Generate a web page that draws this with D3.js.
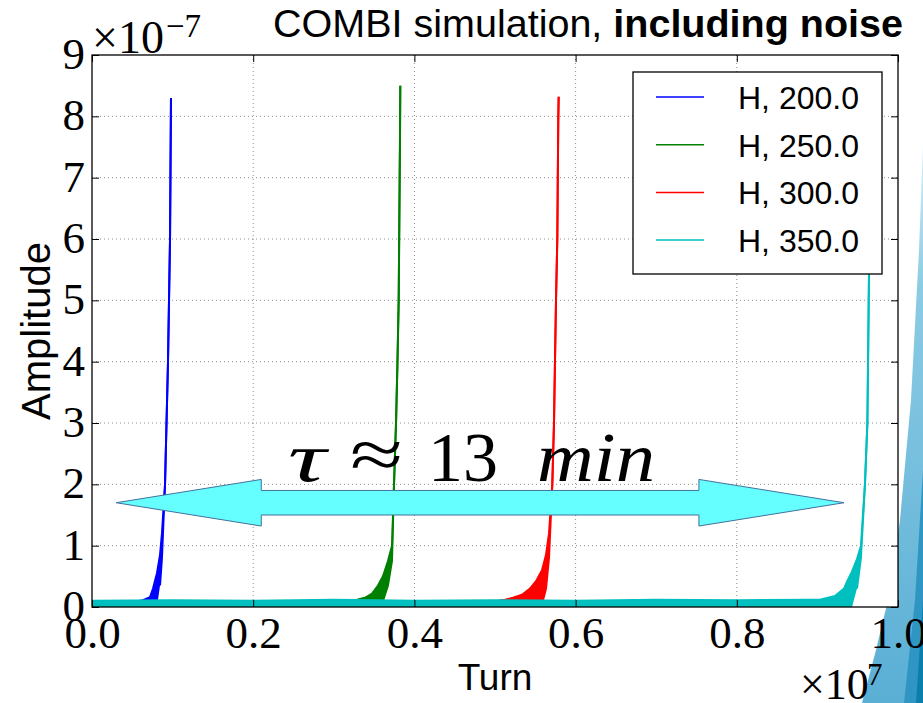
<!DOCTYPE html>
<html>
<head>
<meta charset="utf-8">
<script src="https://cdn.jsdelivr.net/npm/d3@7"></script>
<style>
body{margin:0;background:#fff;}
svg{display:block;}
</style>
</head>
<body>
<svg width="923" height="703"></svg>
<script>
// turn in units of 1e7, amplitude in units of 1e-7
const xTicks=[0.0,0.2,0.4,0.6,0.8,1.0];
const yTicks=[0,1,2,3,4,5,6,7,8,9];
const seriesNames=["H, 200.0","H, 250.0","H, 300.0","H, 350.0"];
const seriesColors=["#0000ff","#008000","#ff0000","#00bfbf"];

// each series: upper and lower edge of the (noisy) trace
const h200Turn=[0,0.015,0.03,0.045,0.055,0.0633,0.072,0.0757,0.0806,0.0844,0.0868,0.0906,0.0943,0.0968,0.098];
const h200Hi  =[0.09,0.09,0.09,0.09,0.09,0.11,0.16,0.3,0.55,0.85,1.2,2.0,4.0,6.0,8.3];
const h200Lo  =[0,0,0,0,0,0,0,0,0,0.35,0.8,2.0,4.0,6.0,8.3];

const h250Turn=[0,0.05,0.1,0.15,0.2,0.25,0.3,0.3288,0.3387,0.3474,0.3548,0.361,0.3672,0.3722,0.3747,0.3772,0.379,0.3805,0.3813,0.3821,0.3825];
const h250Hi  =[0.09,0.09,0.09,0.09,0.09,0.09,0.09,0.12,0.15,0.22,0.35,0.5,0.75,1.0,2.0,3.0,4.0,5.0,6.3,7.6,8.5];
const h250Lo  =[0,0,0,0,0,0,0,0,0,0,0,0.1,0.35,0.75,2.0,3.0,4.0,5.0,6.3,7.6,8.5];

const h300Turn=[0,0.1,0.2,0.3,0.4,0.5,0.5124,0.5223,0.5335,0.5434,0.5509,0.5583,0.5633,0.567,0.5711,0.5732,0.5744,0.5757,0.5773,0.5785,0.579];
const h300Hi  =[0.09,0.09,0.09,0.09,0.09,0.09,0.12,0.15,0.2,0.3,0.42,0.6,0.85,1.2,2.0,3.0,4.0,5.0,6.0,7.94,8.32];
const h300Lo  =[0,0,0,0,0,0,0,0,0,0,0,0.05,0.3,0.8,2.0,3.0,4.0,5.0,6.0,7.94,8.32];

const h350Turn=[0,0.1,0.2,0.3,0.4,0.5,0.6,0.7,0.8,0.89,0.9032,0.9218,0.933,0.937,0.943,0.9491,0.954,0.959,0.962,0.964,0.9653,0.9665];
const h350Hi  =[0.1,0.11,0.1,0.12,0.1,0.11,0.1,0.12,0.11,0.12,0.12,0.18,0.3,0.42,0.58,0.78,1.0,2.0,3.0,5.4,7.0,8.4];
const h350Lo  =[0,0,0,0,0,0,0,0,0,0,0,0,0,0,0,0.3,0.8,2.0,3.0,5.4,7.0,8.4];

// annotation arrow (data units)
const arrowFrom=0.03, arrowTo=0.933, arrowLevel=1.7;
const arrowShaft=0.2, arrowHead=0.38, arrowHeadLen=0.18;

const serifFont="'Liberation Serif', 'DejaVu Serif', serif";
const sansFont="'Liberation Sans', Arial, sans-serif";

const svg=d3.select("svg");
const pLeft=92, pRight=898, pTop=55, pBottom=607;

const x=d3.scaleLinear().domain([0,1]).range([pLeft,pRight]);
const y=d3.scaleLinear().domain([0,9]).range([pBottom,pTop]);

// slide decoration on right edge
const defs=svg.append("defs");
const g1=defs.append("linearGradient").attr("id","band1").attr("x1",0).attr("y1",0).attr("x2",0).attr("y2",1);
g1.append("stop").attr("offset","0%").attr("stop-color","#d6eef7");
g1.append("stop").attr("offset","25%").attr("stop-color","#8ccbe4");
g1.append("stop").attr("offset","100%").attr("stop-color","#5aafd5");
svg.append("polygon")
   .attr("points","923,145 919,250 911,400 900,520 888,600 876,650 862,703 923,703")
   .attr("fill","url(#band1)");
svg.append("polygon")
   .attr("points","923,470 915,600 904,703 923,703")
   .attr("fill","#2f95c2");
svg.append("polygon")
   .attr("points","923,600 916,703 923,703")
   .attr("fill","#0a7fae");

defs.append("clipPath").attr("id","plotclip")
   .append("rect").attr("x",pLeft).attr("y",pTop).attr("width",pRight-pLeft).attr("height",pBottom-pTop);

svg.append("rect").attr("x",pLeft).attr("y",pTop).attr("width",pRight-pLeft).attr("height",pBottom-pTop)
   .attr("fill","#fff");

// grid
const grid=svg.append("g").attr("stroke","#000").attr("stroke-opacity",0.45)
   .attr("stroke-width",1).attr("stroke-dasharray","1,3");
xTicks.slice(1,-1).forEach(function(t){
  grid.append("line").attr("x1",x(t)).attr("x2",x(t)).attr("y1",pTop).attr("y2",pBottom);
});
yTicks.slice(1,-1).forEach(function(t){
  grid.append("line").attr("x1",pLeft).attr("x2",pRight).attr("y1",y(t)).attr("y2",y(t));
});

// series
const allSeries=[
  {turn:h200Turn,hi:h200Hi,lo:h200Lo},
  {turn:h250Turn,hi:h250Hi,lo:h250Lo},
  {turn:h300Turn,hi:h300Hi,lo:h300Lo},
  {turn:h350Turn,hi:h350Hi,lo:h350Lo}
];
const plot=svg.append("g").attr("clip-path","url(#plotclip)");
const area=d3.area().x(d=>x(d.t)).y0(d=>y(d.lo)).y1(d=>y(d.hi));
const lineHi=d3.line().x(d=>x(d.t)).y(d=>y(d.hi));
const lineLo=d3.line().x(d=>x(d.t)).y(d=>y(d.lo));
allSeries.forEach(function(s,i){
  let pts=s.turn.map((t,k)=>({t:t,hi:s.hi[k],lo:s.lo[k]}));
  plot.append("path").attr("d",area(pts)).attr("fill",seriesColors[i]);
  plot.append("path").attr("d",lineHi(pts)).attr("fill","none")
      .attr("stroke",seriesColors[i]).attr("stroke-width",2);
  plot.append("path").attr("d",lineLo(pts.filter(p=>p.lo>0))).attr("fill","none")
      .attr("stroke",seriesColors[i]).attr("stroke-width",2);
});

// axes (ticks point inward, like matplotlib)
const fmtX=d=>d.toFixed(1);
const xAxis=svg.append("g").attr("transform",`translate(0,${pBottom})`)
   .call(d3.axisBottom(x).tickValues(xTicks).tickFormat(fmtX).tickSizeInner(-7).tickSizeOuter(0));
xAxis.selectAll("text").attr("y",41).attr("dy",null)
   .style("font-family",serifFont).style("font-size","45px").attr("fill","#000");
svg.append("g").attr("transform",`translate(0,${pTop})`)
   .call(d3.axisTop(x).tickValues(xTicks).tickFormat("").tickSizeInner(-7).tickSizeOuter(0));
const yAxis=svg.append("g").attr("transform",`translate(${pLeft},0)`)
   .call(d3.axisLeft(y).tickValues(yTicks).tickFormat(d3.format("d")).tickSizeInner(-7).tickSizeOuter(0));
yAxis.selectAll("text").attr("x",-7).attr("dy","0.3em")
   .style("font-family",serifFont).style("font-size","45px").attr("fill","#000");
svg.append("g").attr("transform",`translate(${pRight},0)`)
   .call(d3.axisRight(y).tickValues(yTicks).tickFormat("").tickSizeInner(-7).tickSizeOuter(0));
svg.selectAll(".domain").remove();
svg.selectAll(".tick line").attr("stroke","#000").attr("stroke-width",1);

svg.append("rect").attr("x",pLeft).attr("y",pTop).attr("width",pRight-pLeft).attr("height",pBottom-pTop)
   .attr("fill","none").attr("stroke","#000").attr("stroke-width",1.3);

// offset texts
const off1=svg.append("text").attr("x",pLeft).attr("y",53)
   .style("font-family",serifFont).style("font-size","46px");
off1.append("tspan").text("×10");
off1.append("tspan").attr("x",166).attr("y",37).style("font-size","33px").text("−7");
const off2=svg.append("text").attr("x",800).attr("y",699)
   .style("font-family",serifFont).style("font-size","44px");
off2.append("tspan").text("×10");
off2.append("tspan").attr("x",867).attr("y",685).style("font-size","31px").text("7");

// legend
const legend=svg.append("g");
legend.append("rect").attr("x",633).attr("y",72).attr("width",249).attr("height",202)
   .attr("fill","#fff").attr("stroke","#000").attr("stroke-width",1.3);
seriesNames.forEach(function(name,i){
  let ly=97+i*47.7;
  legend.append("line").attr("x1",656).attr("x2",704).attr("y1",ly).attr("y2",ly)
     .attr("stroke",seriesColors[i]).attr("stroke-width",1.5);
  legend.append("text").attr("x",738).attr("y",ly+12)
     .style("font-family",sansFont).style("font-size","32px").text(name);
});

// double arrow annotation
const ax0=x(arrowFrom), ax1=x(arrowTo);
const hb0=x(arrowFrom+arrowHeadLen), hb1=x(arrowTo-arrowHeadLen);
const ay=y(arrowLevel);
const sT=y(arrowLevel+arrowShaft), sB=y(arrowLevel-arrowShaft);
const hT=y(arrowLevel+arrowHead), hB=y(arrowLevel-arrowHead);
svg.append("polygon")
   .attr("points",[[ax0,ay],[hb0,hT],[hb0,sT],[hb1,sT],[hb1,hT],[ax1,ay],[hb1,hB],[hb1,sB],[hb0,sB],[hb0,hB]].join(" "))
   .attr("fill","#66ffff").attr("stroke","#41719c").attr("stroke-width",1);

// tau label
const tau=svg.append("g").style("font-family",serifFont).style("font-size","70px");
tau.append("text").attr("x",288).attr("y",481).style("font-style","italic")
   .attr("textLength",38).attr("lengthAdjust","spacingAndGlyphs").text("τ");
tau.append("text").attr("x",350).attr("y",478)
   .attr("textLength",53).attr("lengthAdjust","spacingAndGlyphs").text("≈");
tau.append("text").attr("x",428).attr("y",481)
   .attr("textLength",70).attr("lengthAdjust","spacingAndGlyphs").text("13");
tau.append("text").attr("x",537).attr("y",481).style("font-style","italic")
   .attr("textLength",118).attr("lengthAdjust","spacingAndGlyphs").text("min");

// titles
const title=svg.append("text").attr("x",903).attr("y",37).attr("text-anchor","end")
   .style("font-family",sansFont).style("font-size","39.5px");
title.append("tspan").text("COMBI simulation, ");
title.append("tspan").style("font-weight","bold").text("including noise");

svg.append("text").attr("x",(pLeft+pRight)/2).attr("y",690).attr("text-anchor","middle")
   .style("font-family",sansFont).style("font-size","37px").text("Turn");
svg.append("text").attr("transform",`translate(50,${(pTop+pBottom)/2}) rotate(-90)`)
   .attr("text-anchor","middle")
   .style("font-family",sansFont).style("font-size","40px").text("Amplitude");
</script>
</body>
</html>
